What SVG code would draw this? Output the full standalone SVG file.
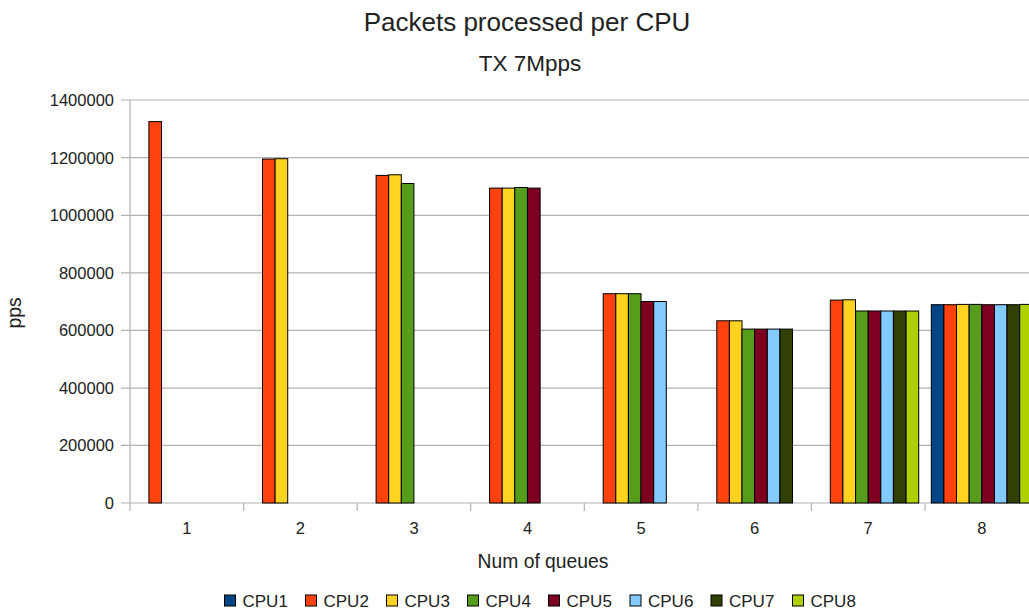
<svg xmlns="http://www.w3.org/2000/svg" width="1029" height="612" viewBox="0 0 1029 612">
  <style>
    text { font-family: "Liberation Sans", Arial, sans-serif; fill: #222; }
    .title { font-size: 26px; }
    .sub { font-size: 22.5px; }
    .tick { font-size: 16.5px; }
    .axt { font-size: 19.3px; }
    .leg { font-size: 17px; }
    .grid { stroke: #b3b3b3; stroke-width: 1.2; fill: none; }
    .bar { stroke: #000; stroke-width: 1; }
    .c1 { fill: #004586; } .c2 { fill: #ff420e; } .c3 { fill: #ffd320; } .c4 { fill: #579d1c; }
    .c5 { fill: #7e0021; } .c6 { fill: #83caff; } .c7 { fill: #314004; } .c8 { fill: #aecf00; }
  </style>
  <rect width="1029" height="612" fill="#fff"/>

  <!-- titles -->
  <text class="title" x="527" y="31" text-anchor="middle">Packets processed per CPU</text>
  <text class="sub" x="530" y="71" text-anchor="middle">TX 7Mpps</text>

  <!-- grid and axes -->
  <g id="grid">
    <path class="grid" d="M121 100H1029M121 157.6H1029M121 215.3H1029M121 272.9H1029M121 330.3H1029M121 388.1H1029M121 445.4H1029M121 503H1029"/>
    <path class="grid" d="M130 100V511M243.6 503V511M357.1 503V511M470.7 503V511M584.3 503V511M697.9 503V511M811.4 503V511M925 503V511"/>
  </g>

  <!-- y tick labels -->
  <g id="y-labels" class="tick" text-anchor="end">
    <text x="114" y="106">1400000</text>
    <text x="114" y="163.6">1200000</text>
    <text x="114" y="221.3">1000000</text>
    <text x="114" y="278.9">800000</text>
    <text x="114" y="336.3">600000</text>
    <text x="114" y="394.1">400000</text>
    <text x="114" y="451.4">200000</text>
    <text x="114" y="509">0</text>
  </g>

  <!-- x tick labels -->
  <g id="x-labels" class="tick" text-anchor="middle">
    <text x="186.8" y="534">1</text>
    <text x="300.4" y="534">2</text>
    <text x="414" y="534">3</text>
    <text x="527.5" y="534">4</text>
    <text x="641.1" y="534">5</text>
    <text x="754.6" y="534">6</text>
    <text x="868.2" y="534">7</text>
    <text x="981.8" y="534">8</text>
  </g>

  <text class="axt" x="543" y="568" text-anchor="middle">Num of queues</text>
  <text class="axt" transform="translate(21 313) rotate(-90)" text-anchor="middle">pps</text>

  <!-- bars: one group per queue count -->
  <g id="q1">
    <rect class="bar c2" x="148.9" y="121.6" width="12.62" height="381.4"/>
  </g>
  <g id="q2">
    <rect class="bar c2" x="262.5" y="159" width="12.62" height="344"/>
    <rect class="bar c3" x="275.1" y="158.7" width="12.62" height="344.3"/>
  </g>
  <g id="q3">
    <rect class="bar c2" x="376.1" y="175.4" width="12.62" height="327.6"/>
    <rect class="bar c3" x="388.7" y="174.8" width="12.62" height="328.2"/>
    <rect class="bar c4" x="401.3" y="183.5" width="12.62" height="319.5"/>
  </g>
  <g id="q4">
    <rect class="bar c2" x="489.6" y="188.1" width="12.62" height="314.9"/>
    <rect class="bar c3" x="502.2" y="188.1" width="12.62" height="314.9"/>
    <rect class="bar c4" x="514.8" y="187.5" width="12.62" height="315.5"/>
    <rect class="bar c5" x="527.5" y="188.1" width="12.62" height="314.9"/>
  </g>
  <g id="q5">
    <rect class="bar c2" x="603.2" y="293.7" width="12.62" height="209.3"/>
    <rect class="bar c3" x="615.8" y="293.7" width="12.62" height="209.3"/>
    <rect class="bar c4" x="628.4" y="293.7" width="12.62" height="209.3"/>
    <rect class="bar c5" x="641" y="301.5" width="12.62" height="201.5"/>
    <rect class="bar c6" x="653.7" y="301.5" width="12.62" height="201.5"/>
  </g>
  <g id="q6">
    <rect class="bar c2" x="716.8" y="320.8" width="12.62" height="182.2"/>
    <rect class="bar c3" x="729.4" y="320.8" width="12.62" height="182.2"/>
    <rect class="bar c4" x="742" y="329.1" width="12.62" height="173.9"/>
    <rect class="bar c5" x="754.6" y="329.1" width="12.62" height="173.9"/>
    <rect class="bar c6" x="767.3" y="329.1" width="12.62" height="173.9"/>
    <rect class="bar c7" x="779.9" y="329.1" width="12.62" height="173.9"/>
  </g>
  <g id="q7">
    <rect class="bar c2" x="830.3" y="300.1" width="12.62" height="202.9"/>
    <rect class="bar c3" x="842.9" y="299.8" width="12.62" height="203.2"/>
    <rect class="bar c4" x="855.6" y="311" width="12.62" height="192"/>
    <rect class="bar c5" x="868.2" y="311" width="12.62" height="192"/>
    <rect class="bar c6" x="880.8" y="311" width="12.62" height="192"/>
    <rect class="bar c7" x="893.4" y="311" width="12.62" height="192"/>
    <rect class="bar c8" x="906.1" y="311" width="12.62" height="192"/>
  </g>
  <g id="q8">
    <rect class="bar c1" x="931.3" y="304.7" width="12.62" height="198.3"/>
    <rect class="bar c2" x="943.9" y="304.7" width="12.62" height="198.3"/>
    <rect class="bar c3" x="956.5" y="304.4" width="12.62" height="198.6"/>
    <rect class="bar c4" x="969.2" y="304.4" width="12.62" height="198.6"/>
    <rect class="bar c5" x="981.8" y="304.7" width="12.62" height="198.3"/>
    <rect class="bar c6" x="994.4" y="304.7" width="12.62" height="198.3"/>
    <rect class="bar c7" x="1007" y="304.7" width="12.62" height="198.3"/>
    <rect class="bar c8" x="1019.7" y="304.4" width="12.62" height="198.6"/>
  </g>

  <!-- legend -->
  <g id="legend" class="leg">
    <rect class="bar c1" x="224.5" y="595" width="11" height="11"/><text x="242.5" y="607">CPU1</text>
    <rect class="bar c2" x="305.5" y="595" width="11" height="11"/><text x="323.5" y="607">CPU2</text>
    <rect class="bar c3" x="386.5" y="595" width="11" height="11"/><text x="404.5" y="607">CPU3</text>
    <rect class="bar c4" x="467.5" y="595" width="11" height="11"/><text x="485.5" y="607">CPU4</text>
    <rect class="bar c5" x="548.5" y="595" width="11" height="11"/><text x="566.5" y="607">CPU5</text>
    <rect class="bar c6" x="630" y="595" width="11" height="11"/><text x="648" y="607">CPU6</text>
    <rect class="bar c7" x="711" y="595" width="11" height="11"/><text x="729" y="607">CPU7</text>
    <rect class="bar c8" x="792.5" y="595" width="11" height="11"/><text x="810.5" y="607">CPU8</text>
  </g>
</svg>
